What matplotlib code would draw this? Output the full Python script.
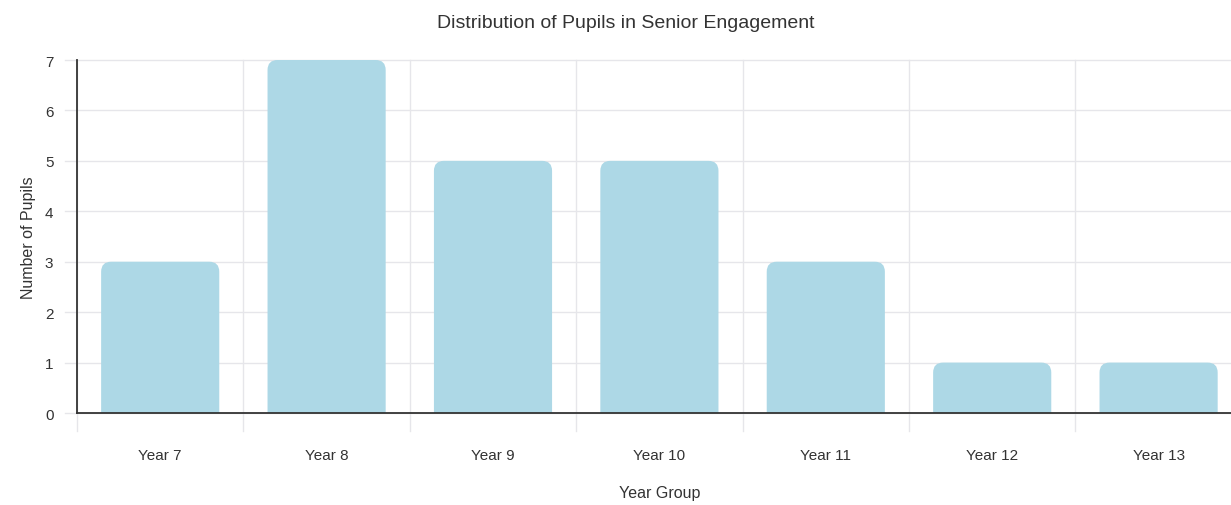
import numpy as np
import matplotlib.pyplot as plt
from matplotlib.patches import FancyBboxPatch

# Data
year_groups = ['Year 7', 'Year 8', 'Year 9', 'Year 10', 'Year 11', 'Year 12', 'Year 13']
pupils = [3, 7, 5, 5, 3, 1, 1]

plt.rcParams['font.family'] = ['Liberation Sans', 'DejaVu Sans']

W, H = 1231, 506
fig = plt.figure(figsize=(W / 100, H / 100), dpi=100)
# axes area in pixels: left 77, top 61, bottom 414, one category ~166.4 px
left, top, bottom = 77, 61, 414
cat_w = 166.4
ax = fig.add_axes([left / W, 1 - bottom / H, 7 * cat_w / W, (bottom - top) / H])

x = np.arange(len(year_groups))
bar_w = 0.71
px_x = cat_w
px_y = (bottom - top) / 7
r = 10 / px_x
aspect = (10 / px_y) / r
for xi, v in zip(x, pupils):
    box = FancyBboxPatch((xi - bar_w / 2, -0.5), bar_w, v + 0.5,
                         boxstyle=f"round,pad=0,rounding_size={r}",
                         mutation_aspect=aspect,
                         facecolor='#add8e6', edgecolor='none', zorder=2)
    ax.add_patch(box)

ax.set_xlim(-0.5, len(year_groups) - 0.5)
ax.set_ylim(0, 7)
ax.set_yticks(range(8))
ax.set_xticks(x)
ax.set_xticklabels(year_groups)

# vertical grid lines at category boundaries
for b in np.arange(-0.5, len(year_groups), 1):
    ax.plot([b, b], [-0.36, 7], color='#e6e6ea', lw=1, clip_on=False, zorder=0)
for yv in range(8):
    ax.plot([-0.5 - 12 / px_x, 6.5], [yv, yv], color='#e6e6ea', lw=1, clip_on=False, zorder=0)

ax.tick_params(axis='both', length=0, labelsize=11, colors='#333333')
ax.tick_params(axis='y', pad=17)
ax.tick_params(axis='x', pad=30)
for s in ['top', 'right']:
    ax.spines[s].set_visible(False)
ax.spines['left'].set_color('#333333')
ax.spines['bottom'].set_color('#333333')
ax.spines['left'].set_linewidth(1.3)
ax.spines['bottom'].set_linewidth(1.3)
ax.spines['left'].set_zorder(3)
ax.spines['bottom'].set_zorder(3)
for lab in ax.get_xticklabels():
    lab.set_verticalalignment('center')

fig.text(626 / W, 1 - 24 / H, 'Distribution of Pupils in Senior Engagement',
         ha='center', va='center', fontsize=14, color='#333333')
fig.text(660 / W, 1 - 494 / H, 'Year Group', ha='center', va='center',
         fontsize=11.5, color='#333333')
fig.text(28 / W, 1 - 238 / H, 'Number of Pupils', ha='center', va='center',
         rotation=90, fontsize=11.5, color='#333333')

fig.savefig('out.png', dpi=100)
